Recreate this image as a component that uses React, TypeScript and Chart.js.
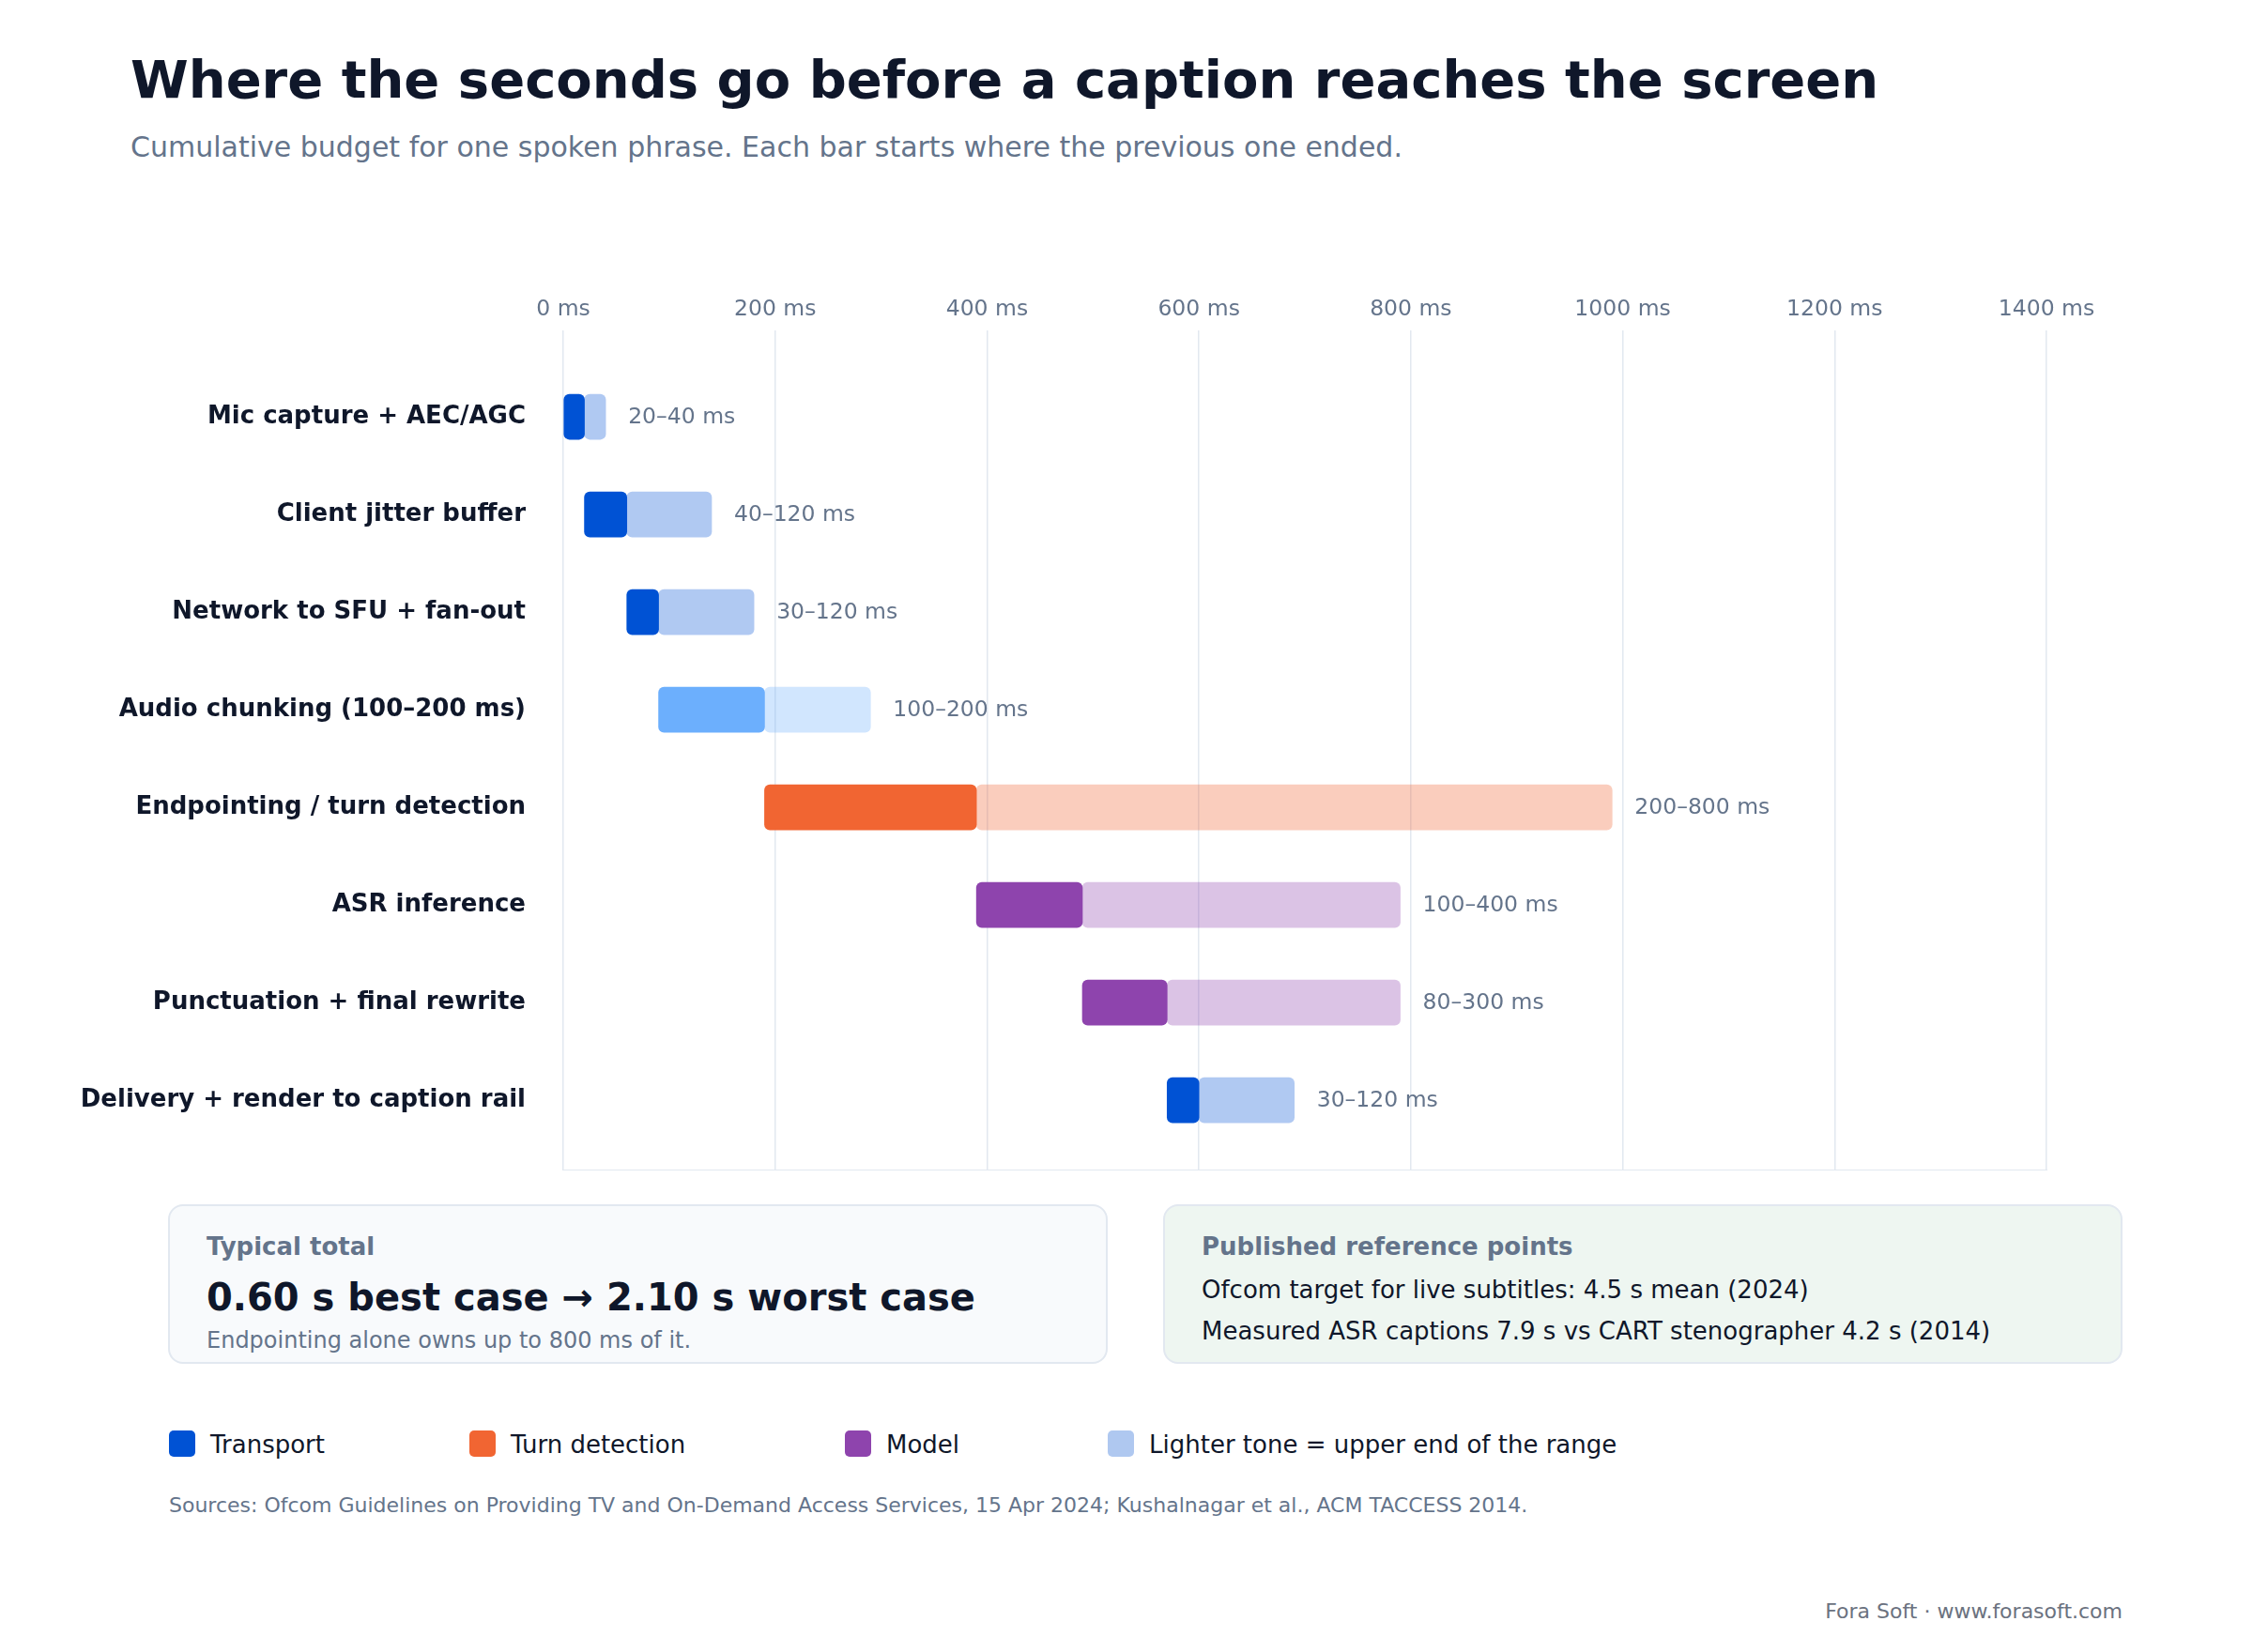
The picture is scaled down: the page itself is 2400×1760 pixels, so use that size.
import React, { useEffect, useRef } from "react";
import { Chart, registerables } from "chart.js";

Chart.register(...registerables);

const categories = [
  "Mic capture + AEC/AGC",
  "Client jitter buffer",
  "Network to SFU + fan-out",
  "Audio chunking (100–200 ms)",
  "Endpointing / turn detection",
  "ASR inference",
  "Punctuation + final rewrite",
  "Delivery + render to caption rail",
];
const minMs = [20, 40, 30, 100, 200, 100, 80, 30];
const maxMs = [40, 120, 120, 200, 800, 400, 300, 120];
const groups = ["transport", "transport", "transport", "chunk", "turn", "model", "model", "transport"];
const xTickValues = [0, 200, 400, 600, 800, 1000, 1200, 1400];

const groupDark: Record<string, string> = {
  transport: "#0052D4",
  chunk: "#6CAFFD",
  turn: "#F16532",
  model: "#8E44AD",
};
const groupLight: Record<string, string> = {
  transport: "rgba(0, 82, 212, 0.31)",
  chunk: "rgba(108, 175, 253, 0.31)",
  turn: "rgba(241, 101, 50, 0.32)",
  model: "rgba(142, 68, 173, 0.32)",
};

const legendItems = [
  { label: "Transport", color: "#0052D4", x: 180 },
  { label: "Turn detection", color: "#F16532", x: 500 },
  { label: "Model", color: "#8E44AD", x: 900 },
  { label: "Lighter tone = upper end of the range", color: "#AFC8F0", x: 1180 },
];

const FONT = "'DejaVu Sans', 'Noto Sans', sans-serif";

// each stage starts where the previous stage's best case ended
const starts: number[] = [];
{
  let acc = 0;
  for (let i = 0; i < minMs.length; i++) {
    starts.push(acc);
    acc += minMs[i];
  }
}

function ChartCanvas() {
  const ref = useRef<HTMLCanvasElement | null>(null);
  useEffect(() => {
    if (!ref.current) return;
    Chart.defaults.font.family = FONT;
    const rangeLabels = {
      id: "rangeLabels",
      beforeDatasetsDraw(chart: any) {
        const { ctx, chartArea } = chart;
        ctx.save();
        ctx.strokeStyle = "#E2E8F0";
        ctx.lineWidth = 2;
        ctx.beginPath();
        ctx.moveTo(chartArea.left, chartArea.bottom);
        ctx.lineTo(chartArea.right + 1, chartArea.bottom);
        ctx.stroke();
        ctx.restore();
      },
      afterDatasetsDraw(chart: any) {
        const { ctx } = chart;
        const xs = chart.scales.x;
        const ys = chart.scales.y;
        ctx.save();
        ctx.font = `23.5px ${FONT}`;
        ctx.fillStyle = "#64748B";
        ctx.textAlign = "left";
        ctx.textBaseline = "middle";
        categories.forEach((_, i) => {
          const xe = xs.getPixelForValue(starts[i] + maxMs[i]);
          const yc = ys.getPixelForValue(i);
          ctx.fillText(`${minMs[i]}–${maxMs[i]} ms`, xe + 24, yc + 1);
        });
        ctx.restore();
      },
    };

    const chart = new Chart(ref.current, {
      type: "bar",
      data: {
        datasets: [
          {
            label: "best",
            data: categories.map((_, i) => ({ x: [starts[i], starts[i] + minMs[i]], y: i })) as any,
            backgroundColor: groups.map((g) => groupDark[g]),
            borderRadius: 6,
            borderSkipped: false,
            barThickness: 48,
            maxBarThickness: 48,
            grouped: false,
            order: 1,
          },
          {
            label: "range",
            data: categories.map((_, i) => ({ x: [starts[i] + minMs[i], starts[i] + maxMs[i]], y: i })) as any,
            backgroundColor: groups.map((g) => groupLight[g]),
            borderRadius: 6,
            borderSkipped: false,
            barThickness: 48,
            maxBarThickness: 48,
            grouped: false,
            order: 2,
          },
        ],
      },
      options: {
        indexAxis: "y",
        animation: false,
        responsive: false,
        devicePixelRatio: 1,
        layout: { padding: { left: 0, right: 220, top: 0, bottom: 0 } },
        plugins: { legend: { display: false }, tooltip: { enabled: false } },
        scales: {
          x: {
            type: "linear",
            position: "top",
            min: 0,
            max: 1400,
            offset: false,
            afterBuildTicks: (scale: any) => {
              scale.ticks = xTickValues.map((v) => ({ value: v }));
            },
            afterFit: (scale: any) => {
              scale.height = 72;
            },
            ticks: {
              callback: (v: any) => `${v} ms`,
              color: "#64748B",
              font: { size: 23.5, family: FONT },
              padding: 8,
              autoSkip: false,
              maxRotation: 0,
            },
            grid: { color: "#E2E8F0", lineWidth: 1.5, drawTicks: false, offset: false },
            border: { display: false },
          },
          y: {
            type: "linear",
            position: "left",
            reverse: true,
            offset: false,
            min: -0.885,
            max: 7.72,
            afterBuildTicks: (scale: any) => {
              scale.ticks = categories.map((_, i) => ({ value: i }));
            },
            afterFit: (scale: any) => {
              scale.width = 600;
              scale.paddingBottom = 0;
              scale.paddingTop = 0;
            },
            ticks: {
              callback: (v: any) => categories[v as number],
              color: "#0F172A",
              font: { size: 26, weight: "bold", family: FONT },
              padding: 40,
              autoSkip: false,
            },
            grid: { display: false, drawTicks: false, offset: false },
            border: { display: false },
          },
        },
      },
      plugins: [rangeLabels],
    } as any);
    return () => chart.destroy();
  }, []);
  return <canvas ref={ref} width={2400} height={967} style={{ position: "absolute", left: 0, top: 280, width: 2400, height: 967 }} />;
}

const abs = (left: number, top: number, size: number, color: string, weight: number | string = "normal"): React.CSSProperties => ({
  position: "absolute",
  left,
  top,
  fontSize: size,
  lineHeight: 1,
  color,
  fontWeight: weight as any,
  whiteSpace: "nowrap",
  fontFamily: FONT,
});

export default function App() {
  return (
    <div style={{ position: "absolute", left: 0, top: 0, width: 2400, height: 1760, background: "#FFFFFF", overflow: "hidden", fontFamily: FONT }}>
      <div style={abs(139, 56.6, 56, "#0F172A", "bold")}>Where the seconds go before a caption reaches the screen</div>
      <div style={abs(139, 141.6, 30, "#64748B")}>Cumulative budget for one spoken phrase. Each bar starts where the previous one ended.</div>

      <ChartCanvas />

      <div style={{ position: "absolute", left: 179, top: 1283, width: 1001, height: 170, boxSizing: "border-box", background: "#F8FAFC", border: "2px solid #E2E8F0", borderRadius: 16 }} />
      <div style={abs(220, 1315, 26, "#64748B", "bold")}>Typical total</div>
      <div style={abs(220, 1362.2, 40, "#0F172A", "bold")}>0.60 s best case → 2.10 s worst case</div>
      <div style={abs(220, 1415.7, 24, "#64748B")}>Endpointing alone owns up to 800 ms of it.</div>

      <div style={{ position: "absolute", left: 1239, top: 1283, width: 1022, height: 170, boxSizing: "border-box", background: "#EEF6F1", border: "2px solid #E2E8F0", borderRadius: 16 }} />
      <div style={abs(1280, 1315, 26, "#64748B", "bold")}>Published reference points</div>
      <div style={abs(1280, 1361, 26, "#0F172A")}>Ofcom target for live subtitles: 4.5 s mean (2024)</div>
      <div style={abs(1280, 1405, 26, "#0F172A")}>Measured ASR captions 7.9 s vs CART stenographer 4.2 s (2014)</div>

      {legendItems.map((it) => (
        <React.Fragment key={it.label}>
          <div style={{ position: "absolute", left: it.x, top: 1524, width: 28, height: 28, borderRadius: 5, background: it.color }} />
          <div style={abs(it.x + 44, 1526, 26, "#0F172A")}>{it.label}</div>
        </React.Fragment>
      ))}

      <div style={abs(180, 1593, 22, "#64748B")}>
        Sources: Ofcom Guidelines on Providing TV and On-Demand Access Services, 15 Apr 2024; Kushalnagar et al., ACM TACCESS 2014.
      </div>
      <div style={{ ...abs(0, 1706, 22, "#6B7280"), left: undefined, right: 139 }}>Fora Soft · www.forasoft.com</div>
    </div>
  );
}
